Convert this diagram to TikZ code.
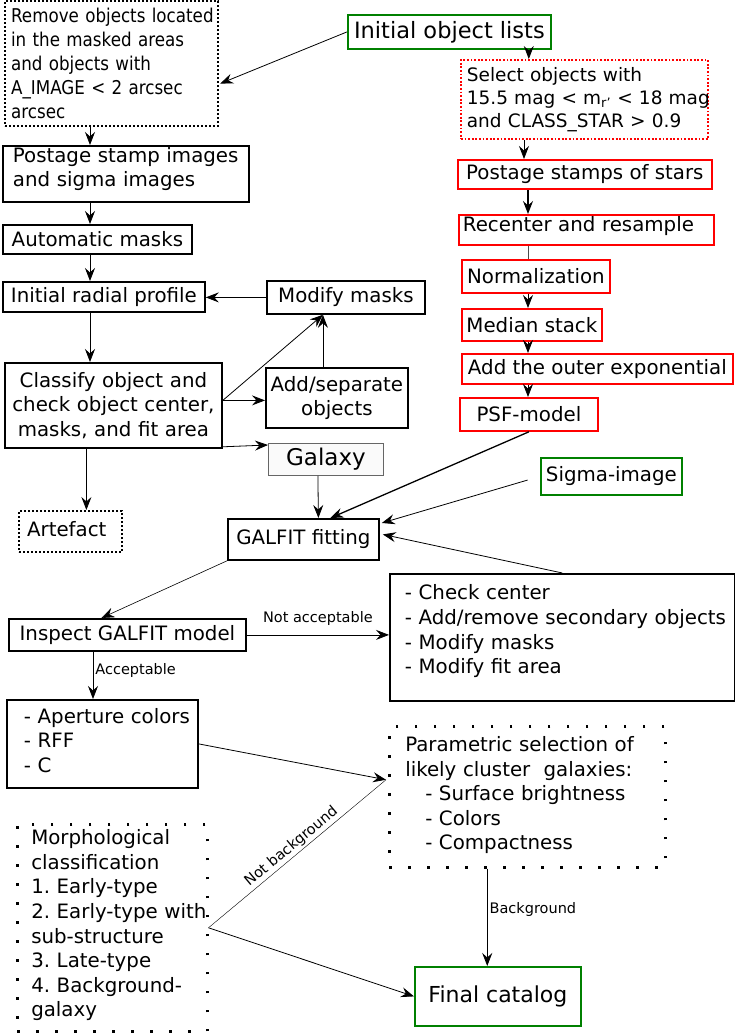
\documentclass[tikz,border=0pt]{standalone}
\usepackage{fontspec}
\setmainfont{DejaVu Sans}
\newfontfamily\condfont[FakeStretch=0.88]{DejaVu Sans}
\usetikzlibrary{positioning}
\usetikzlibrary{calc}
\usetikzlibrary{arrows.meta}

% left padding inside a box with a fixed text width, lines never broken
\newcommand{\padl}[2]{\leftskip=#1\rightskip=-40pt plus 1fil\relax #2\par}

\tikzset{
  basebox/.style={draw, line width=1.8pt, anchor=north west, inner sep=0pt, font=\fontsize{19.8}{24.6}\selectfont},
  blackbox/.style={basebox},
  redbox/.style={basebox, draw=red},
  greenbox/.style={basebox, draw=green!50!black},
  dotbox/.style={basebox, line width=2.2pt, dash pattern=on 2.2pt off 1.8pt},
  sparsebox/.style={basebox, line width=2.5pt, dash pattern=on 2.5pt off 16.5pt},
  galbox/.style={basebox, draw=black!60, line width=0.8pt, fill=gray!4},
  arr/.style={-{Stealth[length=13pt,width=10pt,inset=4.5pt]}, line width=0.8pt},
  lbl/.style={font=\fontsize{14.5}{16}\selectfont, inner sep=2pt},
}

\begin{document}
\frenchspacing
\begin{tikzpicture}[x=1pt, y=-1pt]
\useasboundingbox (0,0) rectangle (734,1033);

% left column
\node[dotbox, font=\condfont\fontsize{19}{24}\selectfont, text width=213pt, align=left, minimum height=125pt] (remove) at (4,0) {\padl{6pt}{Remove objects located\\in the masked areas\\and objects with\\A\_IMAGE < 2 arcsec\\arcsec}};
\node[blackbox, text width=246pt, align=left, minimum height=56pt] (postage) at (2,145) {\padl{10pt}{Postage stamp images\\and sigma images}\kern10pt};
\node[blackbox, minimum width=189pt, minimum height=29pt] (auto) at (2,224) {Automatic masks};
\node[blackbox, minimum width=202pt, minimum height=30pt] (radial) at (2,281) {Initial radial profile};
\node[blackbox, minimum width=158pt, minimum height=33pt] (modify) at (266,280) {Modify masks};
\node[blackbox, text width=217pt, align=center, minimum height=85pt] (classify) at (4,362) {Classify object and\\check object center,\\masks, and fit area};
\node[blackbox, text width=142pt, align=center, minimum height=60pt] (addsep) at (265,367) {Add/separate\\objects};
\node[galbox, font=\fontsize{23}{26}\selectfont, minimum width=115pt, minimum height=32pt] (galaxy) at (268,443) {Galaxy};
\node[dotbox, text width=103pt, align=left, minimum height=41pt] (artefact) at (18,510) {\padl{8pt}{Artefact}\kern4pt};
\node[blackbox, minimum width=151pt, minimum height=41pt] (galfit) at (227,518) {GALFIT fitting};
\node[blackbox, minimum width=237pt, minimum height=32pt] (inspect) at (8,618) {Inspect GALFIT model};
\node[blackbox, text width=345pt, align=left, minimum height=127pt] (check) at (389,573) {\padl{15pt}{- Check center\\- Add/remove secondary objects\\- Modify masks\\- Modify fit area}\kern12pt};
\node[blackbox, text width=191pt, align=left, minimum height=88pt] (aperture) at (6,699) {\padl{17pt}{- Aperture colors\\- RFF\\- C}\kern7pt};
\node[sparsebox, text width=276pt, align=left, minimum height=141pt] (param) at (388,725) {\padl{16pt}{Parametric selection of\\likely cluster\ \ galaxies:\\\hspace*{20pt}- Surface brightness\\\hspace*{20pt}- Colors\\\hspace*{20pt}- Compactness}\kern3pt};
\node[sparsebox, text width=190pt, align=left, minimum height=207pt] (morph) at (16,823) {\padl{14pt}{Morphological\\classification\\1. Early-type\\2. Early-type with\\sub-structure\\3. Late-type\\4. Background-\\galaxy}\kern5pt};
\node[greenbox, font=\fontsize{22}{26}\selectfont, minimum width=166pt, minimum height=59pt] (final) at (414,966) {Final catalog};

% right column (PSF)
\node[greenbox, font=\fontsize{22.5}{26}\selectfont, minimum width=203pt, minimum height=34pt] (lists) at (347,14) {Initial object lists};
\node[dotbox, draw=red, line width=1.8pt, dash pattern=on 1.8pt off 1.8pt, font=\fontsize{18.5}{22.8}\selectfont, text width=247pt, align=left, minimum height=79pt] (select) at (460,59) {\padl{6pt}{Select objects with\\15.5 mag < m\textsubscript{r'} < 18 mag\\and CLASS\_STAR > 0.9}};
\node[redbox, minimum width=254pt, minimum height=29pt] (stars) at (457,159) {Postage stamps of stars};
\node[redbox, text width=255pt, align=left, minimum height=30pt] (recenter) at (458,214) {\padl{4pt}{Recenter and resample}\kern8pt};
\node[redbox, minimum width=148pt, minimum height=33pt] (norm) at (461,259) {Normalization};
\node[redbox, minimum width=140pt, minimum height=32pt] (median) at (461,308) {Median stack};
\node[redbox, minimum width=271pt, minimum height=30pt] (outer) at (461,353) {Add the outer exponential};
\node[redbox, minimum width=138pt, minimum height=33pt] (psf) at (459,397) {PSF-model};
\node[greenbox, minimum width=141pt, minimum height=37pt] (sigma) at (540,457) {Sigma-image};

\coordinate (lc) at (90,0);
\coordinate (rc) at (528,0);
\coordinate (ls) at ($(lists.south east)+(-23,0)$);
\coordinate (ss) at ($(select.south west)+(64,0)$);
\coordinate (cs) at ($(classify.south)+(-27,0)$);
\coordinate (cl) at ($(classify.east)+(0,-5)$);
\coordinate (mm) at ($(modify.south)+(-23,0)$);
\coordinate (is) at ($(inspect.south west)+(85,0)$);
\coordinate (pin) at ($(param.west)+(-2,-17)$);
\coordinate (pb) at ($(param.south)+(-40,0)$);

\draw[arr] (lists.west) -- ($(remove.east)+(1,20)$);
\draw[arr] (ls) -- (ls |- select.north);
\draw[arr] (ss) -- (ss |- stars.north);
\draw[arr, line width=1.2pt] (stars.south -| rc) -- (recenter.north -| rc);
\draw[black!70] (recenter.south -| rc) -- (norm.north -| rc);
\draw[arr] (norm.south -| rc) -- (median.north -| rc);
\draw[arr] (median.south -| rc) -- (outer.north -| rc);
\draw[arr] (outer.south -| rc) -- (psf.north -| rc);
\draw[arr, line width=1.3pt] (psf.south) -- ($(galfit.north)+(27,0)$);
\draw[arr, shorten <=13pt] (sigma.west) -- ($(galfit.north east)+(2,5)$);
\draw[arr] (check.north) -- ($(galfit.east)+(3,-5)$);

\draw[arr] (remove.south -| lc) -- (postage.north -| lc);
\draw[arr] (postage.south -| lc) -- (auto.north -| lc);
\draw[arr] (auto.south -| lc) -- (radial.north -| lc);
\draw[arr] (radial.south -| lc) -- (classify.north -| lc);
\draw[arr] (cs) -- (cs |- artefact.north);
\draw[arr] (modify.west) -- (modify.west -| radial.east);
\draw[arr] (cl) -- (mm);
\draw[arr] (cl) -- (cl -| addsep.west);
\draw[arr] (addsep.north -| mm) -- (mm);
\draw[arr] ($(classify.south east)+(0,-2)$) -- ($(galaxy.north west)+(0,2)$);
\draw[arr] ($(galaxy.south)+(-8,0)$) -- ($(galfit.north)+(15,0)$);
\draw[arr, line width=0.6pt] (galfit.south west) -- ($(inspect.north)+(-26,0)$);
\draw[arr] (inspect.east) -- node[lbl, above=7pt] {Not acceptable} (inspect.east -| check.west);
\draw[arr] (is) -- node[lbl, right, pos=0.4] {Acceptable} (is |- aperture.north);
\draw[arr] (aperture.east) -- (pin);
\draw (pin) -- node[lbl, sloped, above, pos=0.5] {Not background} (morph.east);
\draw[arr] (morph.east) -- (final.west);
\draw[arr] (pb) -- node[lbl, right, pos=0.42] {Background} (pb |- final.north);
\end{tikzpicture}
\end{document}
